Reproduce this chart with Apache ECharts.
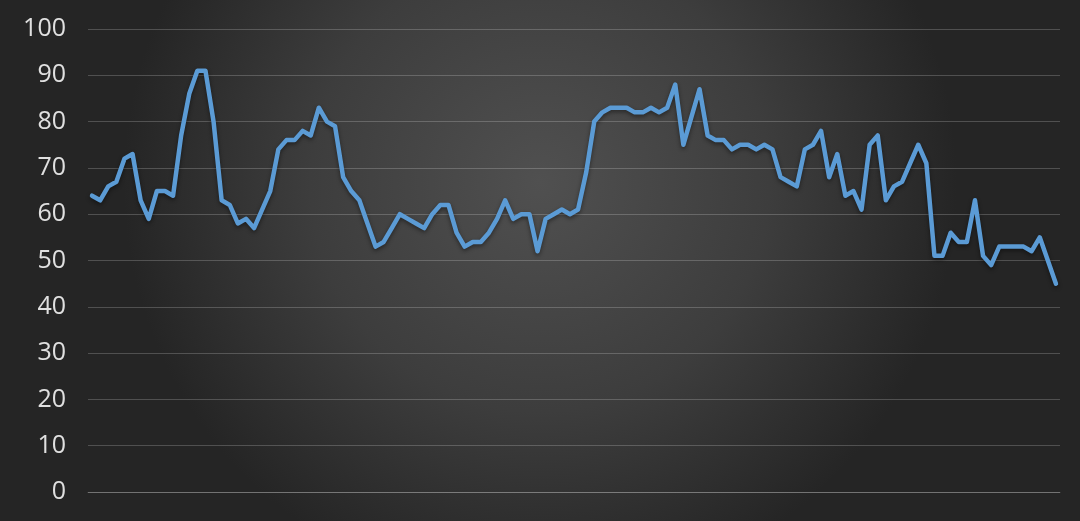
<!DOCTYPE html>
<html>
<head>
<meta charset="utf-8">
<script src="https://cdn.jsdelivr.net/npm/echarts@6/dist/echarts.min.js"></script>
<style>
html,body{margin:0;padding:0;background:#333;}
#chart{width:1080px;height:521px;}
</style>
</head>
<body>
<div id="chart"></div>
<script>
const values = [
  64, 63, 66, 67, 72, 73, 63, 59, 65, 65,
  64, 77, 86, 91, 91, 80, 63, 62, 58, 59,
  57, 61, 65, 74, 76, 76, 78, 77, 83, 80,
  79, 68, 65, 63, 58, 53, 54, 57, 60, 59,
  58, 57, 60, 62, 62, 56, 53, 54, 54, 56,
  59, 63, 59, 60, 60, 52, 59, 60, 61, 60,
  61, 69, 80, 82, 83, 83, 83, 82, 82, 83,
  82, 83, 88, 75, 81, 87, 77, 76, 76, 74,
  75, 75, 74, 75, 74, 68, 67, 66, 74, 75,
  78, 68, 73, 64, 65, 61, 75, 77, 63, 66,
  67, 71, 75, 71, 51, 51, 56, 54, 54, 63,
  51, 49, 53, 53, 53, 53, 52, 55, 50, 45
];
const categories = values.map((_, i) => String(i + 1));
const yTicks = [0, 10, 20, 30, 40, 50, 60, 70, 80, 90, 100];

const chart = echarts.init(document.getElementById('chart'), null, {renderer: 'canvas'});
chart.setOption({
  animation: false,
  backgroundColor: {
    type: 'radial', x: 0.5, y: 0.35, r: 0.8,
    colorStops: [
      {offset: 0, color: '#505050'},
      {offset: 0.55, color: '#3d3d3d'},
      {offset: 1, color: '#252525'}
    ]
  },
  grid: {left: 88, top: 29, width: 972, height: 463, containLabel: false},
  xAxis: {
    type: 'category',
    data: categories,
    boundaryGap: true,
    axisLine: {show: true, lineStyle: {color: 'rgba(255,255,255,0.2)', width: 1}},
    axisTick: {show: false},
    axisLabel: {show: false},
    splitLine: {show: false}
  },
  yAxis: {
    type: 'value',
    min: yTicks[0],
    max: yTicks[yTicks.length - 1],
    interval: 10,
    axisLine: {show: false},
    axisTick: {show: false},
    axisLabel: {
      color: '#e0e0e0',
      fontSize: 25,
      fontFamily: 'Open Sans, Noto Sans, sans-serif',
      margin: 22
    },
    splitLine: {lineStyle: {color: 'rgba(255,255,255,0.2)', width: 1}}
  },
  series: [{
    type: 'line',
    data: values,
    symbol: 'none',
    smooth: false,
    lineStyle: {
      color: '#5b9bd5',
      width: 4.5,
      join: 'round',
      cap: 'round',
      shadowColor: 'rgba(0,0,0,0.45)',
      shadowBlur: 4,
      shadowOffsetY: 2
    }
  }]
});
</script>
</body>
</html>
